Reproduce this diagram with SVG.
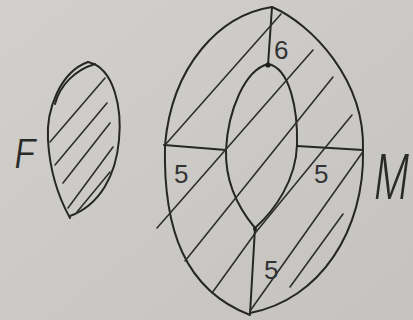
<svg xmlns="http://www.w3.org/2000/svg" width="413" height="320" viewBox="0 0 413 320">
  <defs>
    <linearGradient id="paper" x1="0" y1="0" x2="1" y2="1">
      <stop offset="0" stop-color="#d1d0cc"/>
      <stop offset="1" stop-color="#c4c3bf"/>
    </linearGradient>
  </defs>
  <style>
    .ink { fill: none; stroke: #262626; stroke-width: 2; stroke-linecap: round; stroke-linejoin: round; }
    .hatch { fill: none; stroke: #2e2e2e; stroke-width: 1.6; stroke-linecap: round; stroke-linejoin: round; }
    .num { font-family: "Liberation Sans", "DejaVu Sans", sans-serif; font-size: 26px; fill: #333333; }
    .big { font-family: "Inter", "Liberation Sans", sans-serif; font-weight: 300; fill: #2a2a2a; }
  </style>
  <rect x="0" y="0" width="413" height="320" fill="url(#paper)"/>

  <g id="F">
    <path class="ink" d="M88,62 C60,72 46,110 48,140 C50,175 60,200 70,218"/>
    <path class="ink" d="M88,62 C115,68 122,110 119,140 C116,175 100,205 70,216"/>
    <path class="ink" d="M55,104 C60,85 75,70 95,64"/>
    <g class="hatch">
      <line x1="50" y1="142" x2="105" y2="78"/>
      <line x1="55" y1="165" x2="107" y2="103"/>
      <line x1="63" y1="183" x2="110" y2="123"/>
      <line x1="68" y1="208" x2="113" y2="147"/>
      <line x1="77" y1="212" x2="110" y2="172"/>
    </g>
    <g transform="translate(12,168) skewX(-8)">
      <text class="big" x="0" y="0" font-size="40">F</text>
    </g>
  </g>

  <g id="M">
    <path class="ink" d="M272,7 C220,15 172,65 165,145"/>
    <path class="ink" d="M272,7 C312,24 365,80 363,150"/>
    <path class="ink" d="M165,145 C163,230 185,290 250,315"/>
    <path class="ink" d="M363,150 C365,230 320,300 250,313"/>
    <path class="ink" d="M268,64 C245,70 228,110 226,150 C225,185 240,210 255,228"/>
    <path class="ink" d="M268,64 C290,68 298,110 297,145 C296,180 275,210 255,228"/>
    <line class="ink" x1="272" y1="7" x2="268" y2="65"/>
    <line class="ink" x1="164" y1="145" x2="226" y2="150"/>
    <line class="ink" x1="297" y1="146" x2="363" y2="150"/>
    <line class="ink" x1="255" y1="228" x2="250" y2="314"/>
    <circle cx="268" cy="65" r="2.6" fill="#1e1e1e"/>
    <circle cx="255" cy="229" r="2" fill="#1e1e1e"/>
    <g class="hatch">
      <line x1="165" y1="145" x2="281" y2="14"/>
      <line x1="157" y1="228" x2="313" y2="50"/>
      <line x1="185" y1="261" x2="333" y2="77"/>
      <polyline points="212,293 256,232 352,115"/>
      <line x1="250" y1="311" x2="362" y2="153"/>
      <line x1="290" y1="287" x2="343" y2="214"/>
    </g>
    <text class="num" x="274" y="59">6</text>
    <text class="num" x="174" y="183">5</text>
    <text class="num" x="314" y="183">5</text>
    <text class="num" x="264" y="279">5</text>
    <g transform="translate(372,199) scale(0.62,1) skewX(-12)">
      <text class="big" x="0" y="0" font-size="62">M</text>
    </g>
  </g>
</svg>
